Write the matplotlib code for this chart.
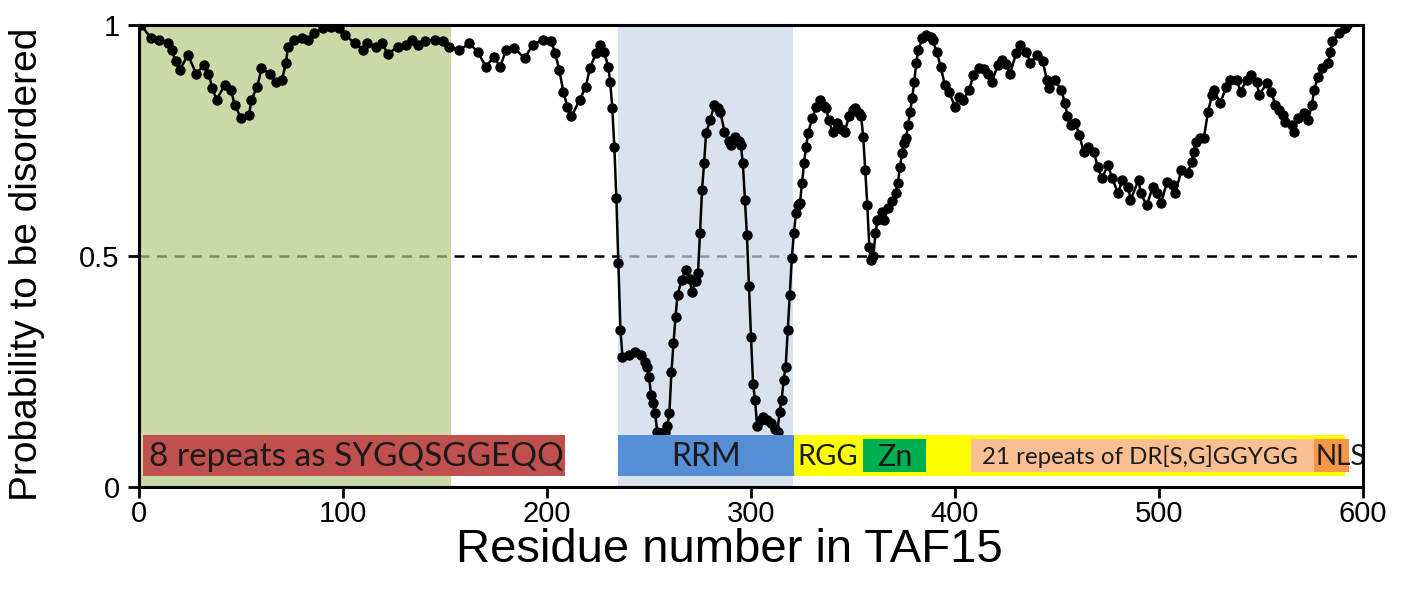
import matplotlib
matplotlib.use("Agg")
import matplotlib.pyplot as plt

# residue numbers and disorder probability
residues = [1, 6, 10, 14, 16, 18, 20, 24, 28, 32, 34, 36, 38, 42, 45, 47, 50, 54, 55,
            58, 60, 64, 67, 70, 72, 73, 76, 80, 83, 86, 90, 94, 98, 101, 106, 110, 112,
            116, 119, 122, 127, 131, 134, 137, 140, 145, 149, 152, 157, 162, 166, 170,
            174, 177, 180, 184, 189, 193, 198, 202, 204, 206, 208, 210, 212, 216, 219,
            221, 224, 226, 228, 230, 231, 232, 233, 234, 235, 236, 237, 240, 243, 246,
            248, 249, 250, 251, 252, 253, 254, 256, 258, 259, 260, 261, 262, 263, 264,
            266, 268, 270, 271, 273, 274, 275, 276, 277, 278, 280, 282, 284, 285, 287,
            289, 290, 292, 294, 295, 296, 297, 298, 299, 300, 301, 302, 303, 305, 306,
            308, 310, 312, 313, 314, 315, 316, 317, 318, 319, 320, 321, 322, 323, 324,
            325, 326, 327, 328, 330, 332, 334, 336, 337, 338, 340, 342, 344, 346, 348,
            350, 351, 353, 354, 355, 356, 357, 358, 359, 360, 361, 362, 364, 365, 367,
            369, 371, 372, 373, 374, 375, 376, 377, 378, 379, 380, 381, 382, 384, 386,
            388, 389, 391, 393, 395, 397, 400, 402, 404, 407, 409, 412, 414, 416, 418,
            421, 423, 425, 427, 430, 432, 435, 437, 440, 443, 445, 446, 449, 452, 454,
            455, 457, 459, 461, 463, 465, 468, 470, 472, 475, 477, 480, 482, 485, 486,
            490, 491, 494, 497, 499, 501, 504, 507, 508, 511, 514, 516, 517, 518, 520,
            522, 524, 526, 527, 530, 533, 535, 538, 540, 543, 545, 548, 549, 553, 555,
            557, 559, 561, 562, 565, 566, 568, 571, 573, 575, 576, 578, 580, 583, 584,
            585, 588, 591, 592]
disorder = [1.0, 0.971, 0.968, 0.960, 0.946, 0.921, 0.903, 0.935, 0.895, 0.913, 0.895,
            0.863, 0.838, 0.870, 0.859, 0.827, 0.798, 0.805, 0.838, 0.866, 0.906, 0.895,
            0.877, 0.881, 0.917, 0.953, 0.968, 0.971, 0.968, 0.982, 0.993, 0.996, 0.993,
            0.978, 0.960, 0.946, 0.960, 0.953, 0.960, 0.938, 0.953, 0.957, 0.968, 0.957,
            0.965, 0.968, 0.965, 0.953, 0.946, 0.960, 0.942, 0.910, 0.931, 0.910, 0.946,
            0.950, 0.928, 0.957, 0.968, 0.965, 0.939, 0.903, 0.856, 0.823, 0.802, 0.838,
            0.866, 0.906, 0.939, 0.957, 0.942, 0.910, 0.877, 0.820, 0.737, 0.625, 0.484,
            0.340, 0.282, 0.286, 0.293, 0.286, 0.270, 0.260, 0.239, 0.200, 0.181, 0.160,
            0.120, 0.116, 0.118, 0.131, 0.160, 0.250, 0.311, 0.369, 0.416, 0.448, 0.470,
            0.450, 0.423, 0.445, 0.463, 0.549, 0.643, 0.701, 0.766, 0.794, 0.827, 0.820,
            0.812, 0.769, 0.750, 0.740, 0.758, 0.750, 0.740, 0.701, 0.621, 0.545, 0.434,
            0.325, 0.224, 0.188, 0.131, 0.145, 0.152, 0.145, 0.138, 0.125, 0.120, 0.163,
            0.188, 0.232, 0.260, 0.340, 0.416, 0.495, 0.549, 0.592, 0.610, 0.614, 0.657,
            0.701, 0.737, 0.766, 0.798, 0.823, 0.838, 0.825, 0.820, 0.794, 0.769, 0.787,
            0.775, 0.769, 0.802, 0.815, 0.820, 0.810, 0.802, 0.758, 0.686, 0.610, 0.520,
            0.491, 0.499, 0.549, 0.578, 0.596, 0.578, 0.603, 0.618, 0.636, 0.657, 0.693,
            0.722, 0.744, 0.755, 0.784, 0.812, 0.841, 0.877, 0.917, 0.946, 0.971, 0.978,
            0.975, 0.968, 0.942, 0.910, 0.870, 0.856, 0.823, 0.845, 0.838, 0.859, 0.892,
            0.906, 0.905, 0.895, 0.877, 0.913, 0.924, 0.915, 0.895, 0.939, 0.957, 0.942,
            0.917, 0.935, 0.921, 0.882, 0.863, 0.881, 0.859, 0.831, 0.802, 0.784, 0.787,
            0.762, 0.726, 0.737, 0.726, 0.693, 0.668, 0.697, 0.668, 0.636, 0.665, 0.650,
            0.621, 0.665, 0.636, 0.610, 0.650, 0.636, 0.614, 0.661, 0.654, 0.636, 0.686,
            0.679, 0.704, 0.726, 0.747, 0.755, 0.755, 0.812, 0.849, 0.859, 0.831, 0.866,
            0.882, 0.882, 0.856, 0.882, 0.892, 0.877, 0.849, 0.874, 0.856, 0.827, 0.816,
            0.805, 0.791, 0.784, 0.769, 0.798, 0.809, 0.794, 0.827, 0.859, 0.888, 0.906,
            0.917, 0.942, 0.965, 0.982, 0.993, 1.0]

# shaded regions (start, end)
low_complexity = (0, 153)
rrm_region = (234.6, 320.5)

# domain bars along the bottom
bar_names = ["8 repeats as SYGQSGGEQQ", "RRM", "RGG", "Zn",
             "21 repeats of DR[S,G]GGYGG", "NLS"]
bar_start = [2, 234.6, 321, 355, 408, 576]
bar_end = [208.6, 321, 591, 386, 576, 593]

fig = plt.figure(figsize=(14.03, 5.97), dpi=100)
ax = fig.add_axes([139 / 1403, 110 / 597, 1224 / 1403, 462 / 597])

ax.axhline(0.5, color="black", lw=1.8, ls=(0, (4, 3)), zorder=1)
ax.axvspan(*low_complexity, color="#b5ca84", alpha=0.7, lw=0, zorder=2)
ax.axvspan(*rrm_region, color="#c9d8eb", alpha=0.7, lw=0, zorder=2)

ax.plot(residues, disorder, color="black", lw=1.8, marker="o", ms=6.5,
        mec="black", mfc="black", zorder=3)

# bars: outer ones, then inner ones on top
outer = {"8 repeats as SYGQSGGEQQ": "#c0504d", "RRM": "#558ed5", "RGG": "#ffff00"}
inner = {"Zn": "#00b050", "21 repeats of DR[S,G]GGYGG": "#f9bf92", "NLS": "#f79646"}
for name, s, e in zip(bar_names, bar_start, bar_end):
    if name in outer:
        ax.barh(0.068, e - s, left=s, height=0.089, color=outer[name], lw=0, zorder=4)
    else:
        ax.barh(0.068, e - s, left=s, height=0.072, color=inner[name], lw=0, zorder=5)

tfont = dict(family=["Lato", "DejaVu Sans"], color="#1a1a1a", va="center", zorder=6)
ax.text(5, 0.066, bar_names[0], fontsize=24, ha="left", **tfont)
ax.text(278, 0.064, bar_names[1], fontsize=23, ha="center", **tfont)
ax.text(322.5, 0.064, bar_names[2], fontsize=21, ha="left", **tfont)
ax.text(370.5, 0.064, bar_names[3], fontsize=22, ha="center", **tfont)
ax.text(413, 0.066, bar_names[4], fontsize=17.3, ha="left", **tfont)
ax.text(576.5, 0.066, bar_names[5], fontsize=20, ha="left", **tfont)

ax.set_xlim(0, 600)
ax.set_ylim(0, 1)
ax.set_xticks([0, 100, 200, 300, 400, 500, 600])
ax.set_yticks([0, 0.5, 1])
ax.set_yticklabels(["0", "0.5", "1"])
for sp in ax.spines.values():
    sp.set_linewidth(2.2)
    sp.set_zorder(7)
ax.tick_params(direction="out", length=8, width=2, labelsize=21, pad=6)
ax.tick_params(axis="x", pad=1)
for lab in ax.get_xticklabels() + ax.get_yticklabels():
    lab.set_family("Liberation Sans")
ax.set_xlabel("Residue number in TAF15", fontsize=34, family="Liberation Sans")
ax.xaxis.set_label_coords(0.482, -0.088)
ax.set_ylabel("Probability to be disordered", fontsize=28, family="Liberation Sans")
ax.yaxis.set_label_coords(-0.077, 0.482)

fig.savefig("out.png", dpi=100)
